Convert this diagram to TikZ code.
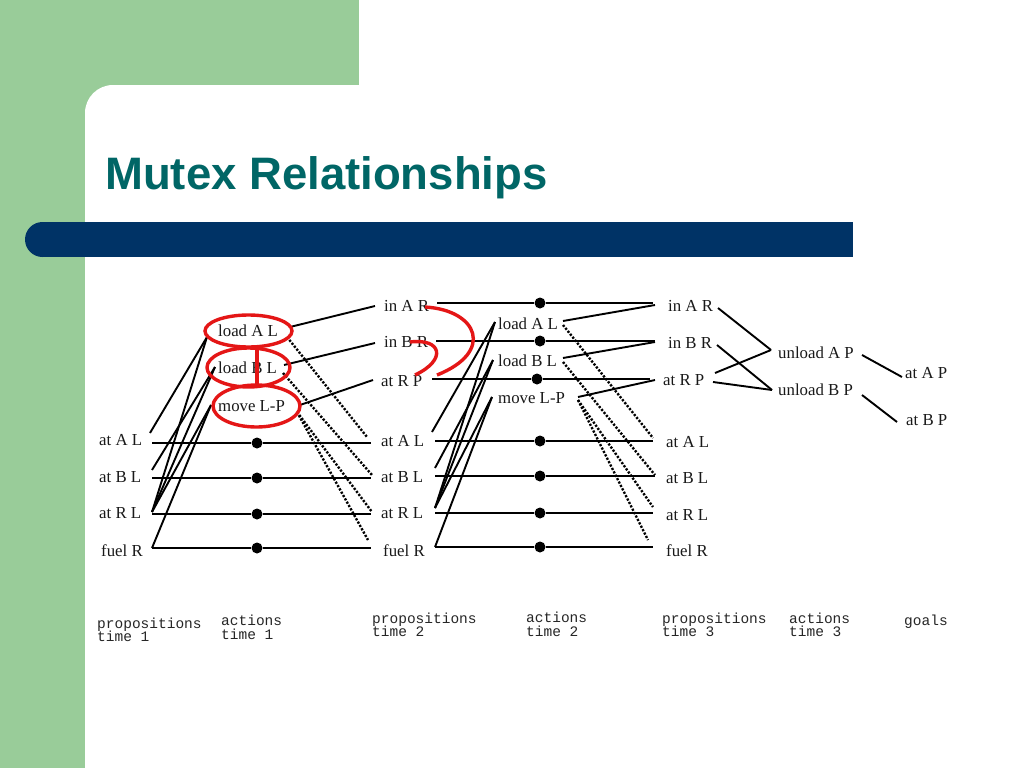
\documentclass[tikz,border=0pt]{standalone}
\usepackage{fontspec}
\setmainfont{Liberation Serif}
\setmonofont{Liberation Mono}
\newfontfamily\ttlfont{Liberation Sans}
\definecolor{slidegreen}{RGB}{153,204,153}
\definecolor{barblue}{RGB}{0,51,102}
\definecolor{titleteal}{RGB}{0,102,102}
\definecolor{markred}{RGB}{228,22,22}
\tikzset{
  lbl/.style={anchor=base west, inner sep=0pt, font=\fontsize{16.8}{18}\selectfont, text=black!90},
  capt/.style={anchor=base west, inner sep=0pt, font=\ttfamily\fontsize{14.5}{14}\selectfont, text=black!85},
  link/.style={line width=1.9pt},
  noop/.style={line width=1.9pt},
  del/.style={line width=2.4pt, dash pattern=on 2.2pt off 1.6pt},
  pdot/.style={circle, fill=black, inner sep=0pt, minimum size=11pt},
  redmark/.style={draw=markred, line width=3.4pt},
}
\begin{document}
\begin{tikzpicture}[x=1pt,y=-1pt]
\useasboundingbox (0,0) rectangle (1024,768);
% background
\fill[white] (0,0) rectangle (1024,768);
\fill[slidegreen] (0,0) rectangle (359,85);
\fill[slidegreen] (0,0) rectangle (85,768);
\fill[slidegreen] (85,85) rectangle (113,113);
\fill[white] (113,113) circle[radius=28];
\fill[barblue] (42.5,222) rectangle (853,257);
\fill[barblue] (42.5,239.5) circle[radius=17.5];
\node[anchor=base west, inner sep=0pt, font=\ttlfont\bfseries\fontsize{45.5}{50}\selectfont, text=titleteal] (title) at (105,189) {Mutex Relationships};

% propositions time 1
\node[lbl] (p1AL) at (99,445) {at A L};
\node[lbl] (p1BL) at (99,482) {at B L};
\node[lbl] (p1RL) at (99,518) {at R L};
\node[lbl] (p1FR) at (101,556) {fuel R};
% actions time 1
\node[lbl] (a1A) at (218,336) {load A L};
\node[lbl] (a1B) at (218,373) {load B L};
\node[lbl] (a1M) at (218,411) {move L-P};
% propositions time 2
\node[lbl] (p2AR) at (384,311) {in A R};
\node[lbl] (p2BR) at (384,347) {in B R};
\node[lbl] (p2RP) at (381,386) {at R P};
\node[lbl] (p2AL) at (381,446) {at A L};
\node[lbl] (p2BL) at (381,482) {at B L};
\node[lbl] (p2RL) at (381,518) {at R L};
\node[lbl] (p2FR) at (383,556) {fuel R};
% actions time 2
\node[lbl] (a2A) at (498,329) {load A L};
\node[lbl] (a2B) at (498,366) {load B L};
\node[lbl] (a2M) at (498,403) {move L-P};
% propositions time 3
\node[lbl] (p3AR) at (668,311) {in A R};
\node[lbl] (p3BR) at (668,348) {in B R};
\node[lbl] (p3RP) at (663,385) {at R P};
\node[lbl] (p3AL) at (666,447) {at A L};
\node[lbl] (p3BL) at (666,483) {at B L};
\node[lbl] (p3RL) at (666,520) {at R L};
\node[lbl] (p3FR) at (666,556) {fuel R};
% actions time 3
\node[lbl] (a3A) at (778,358) {unload A P};
\node[lbl] (a3B) at (778,395) {unload B P};
% goals
\node[lbl] (gA) at (905,378) {at A P};
\node[lbl] (gB) at (906,425) {at B P};

% captions
\node[capt] (c1a) at (97,628) {propositions};
\node[capt] (c1b) at (97,641) {time 1};
\node[capt] (c2a) at (221,625) {actions};
\node[capt] (c2b) at (221,639) {time 1};
\node[capt] (c3a) at (372,623) {propositions};
\node[capt] (c3b) at (372,636) {time 2};
\node[capt] (c4a) at (526,622) {actions};
\node[capt] (c4b) at (526,636) {time 2};
\node[capt] (c5a) at (662,623) {propositions};
\node[capt] (c5b) at (662,636) {time 3};
\node[capt] (c6a) at (789,623) {actions};
\node[capt] (c6b) at (789,636) {time 3};
\node[capt] (c7) at (904,625) {goals};

% no-op lines time 1 -> time 2
\foreach \n/\y in {AL/443, BL/478, RL/514, FR/548} {
  \coordinate (s1\n) at (152,\y);
  \node[pdot] (d1\n) at (257,\y) {};
  \coordinate (e1\n) at (371,\y);
  \draw[noop] (s1\n) -- (d1\n) -- (e1\n);
}
% no-op lines time 2 -> time 3
\foreach \n/\xa/\xd/\xb/\y in {AR/437/540/653/303, BR/436/540/655/341, RP/432/537/650/379, AL/435/540/653/441, BL/435/540/655/476, RL/435/540/653/513, FR/435/540/653/547} {
  \coordinate (s2\n) at (\xa,\y);
  \node[pdot] (d2\n) at (\xd,\y) {};
  \coordinate (e2\n) at (\xb,\y);
  \draw[noop] (s2\n) -- (d2\n) -- (e2\n);
}

% ports time 1
\coordinate (p1AL-o) at (150,433);
\coordinate (p1BL-o) at (152,470);
\coordinate (p1RL-o) at (152,512);
\coordinate (p1FR-o) at (152,548);
\coordinate (a1A-in) at (207,337);
\coordinate (a1B-in) at (215,367);
\coordinate (a1M-in) at (211,405);
\coordinate (a1A-add) at (290,327);
\coordinate (a1A-del) at (287,337);
\coordinate (a1B-add) at (284,365);
\coordinate (a1B-del) at (283,373);
\coordinate (a1M-add) at (300,405);
\coordinate (a1M-del) at (297,412);
\coordinate (p2AR-i) at (375,306);
\coordinate (p2BR-i) at (375,343);
\coordinate (p2RP-i) at (373,380);
\coordinate (p2AL-i) at (367,437);
\coordinate (p2BL-i) at (372,475);
\coordinate (p2RL-i) at (372,512);
\coordinate (p2FR-i) at (368,540);
% ports time 2
\coordinate (p2AL-o) at (432,432);
\coordinate (p2BL-o) at (435,468);
\coordinate (p2RL-o) at (435,508);
\coordinate (p2FR-o) at (435,547);
\coordinate (a2A-in) at (495,322);
\coordinate (a2B-in) at (493,360);
\coordinate (a2M-in) at (492,397);
\coordinate (a2A-add) at (563,321);
\coordinate (a2A-del) at (563,325);
\coordinate (a2B-add) at (563,358);
\coordinate (a2B-del) at (563,362);
\coordinate (a2M-add) at (578,397);
\coordinate (a2M-del) at (578,400);
\coordinate (p3AR-i) at (655,305);
\coordinate (p3BR-i) at (655,342);
\coordinate (p3RP-i) at (655,380);
\coordinate (p3AL-i) at (653,438);
\coordinate (p3BL-i) at (655,475);
\coordinate (p3RL-i) at (653,507);
\coordinate (p3FR-i) at (648,540);
% ports time 3
\coordinate (p3AR-o) at (718,308);
\coordinate (p3BR-o) at (717,345);
\coordinate (p3RP-o) at (715,373);
\coordinate (p3RP-o2) at (713,382);
\coordinate (a3A-in) at (771,350);
\coordinate (a3B-in) at (772,390);
\coordinate (a3A-out) at (862,355);
\coordinate (a3B-out) at (862,395);
\coordinate (gA-in) at (902,377);
\coordinate (gB-in) at (897,422);

% preconditions time 1
\draw[link] (p1AL-o) -- (a1A-in);
\draw[link] (p1RL-o) -- (a1A-in);
\draw[link] (p1BL-o) -- (a1B-in);
\draw[link] (p1RL-o) -- (a1B-in);
\draw[link] (p1RL-o) -- (a1M-in);
\draw[link] (p1FR-o) -- (a1M-in);
% effects time 1
\draw[link] (a1A-add) -- (p2AR-i);
\draw[link] (a1B-add) -- (p2BR-i);
\draw[link] (a1M-add) -- (p2RP-i);
\draw[del] (a1A-del) -- (p2AL-i);
\draw[del] (a1B-del) -- (p2BL-i);
\draw[del] (a1M-del) -- (p2RL-i);
\draw[del] (a1M-del) -- (p2FR-i);
% preconditions time 2
\draw[link] (p2AL-o) -- (a2A-in);
\draw[link] (p2RL-o) -- (a2A-in);
\draw[link] (p2BL-o) -- (a2B-in);
\draw[link] (p2RL-o) -- (a2B-in);
\draw[link] (p2RL-o) -- (a2M-in);
\draw[link] (p2FR-o) -- (a2M-in);
% effects time 2
\draw[link] (a2A-add) -- (p3AR-i);
\draw[link] (a2B-add) -- (p3BR-i);
\draw[link] (a2M-add) -- (p3RP-i);
\draw[del] (a2A-del) -- (p3AL-i);
\draw[del] (a2B-del) -- (p3BL-i);
\draw[del] (a2M-del) -- (p3RL-i);
\draw[del] (a2M-del) -- (p3FR-i);
% time 3
\draw[link] (p3AR-o) -- (a3A-in);
\draw[link] (p3RP-o) -- (a3A-in);
\draw[link] (p3BR-o) -- (a3B-in);
\draw[link] (p3RP-o2) -- (a3B-in);
\draw[link] (a3A-out) -- (gA-in);
\draw[link] (a3B-out) -- (gB-in);

% red mutex marks
\draw[redmark] (248.5,331) ellipse[x radius=43.5, y radius=16];
\draw[redmark] (248.5,367.5) ellipse[x radius=41.5, y radius=19.5];
\draw[redmark] (256.5,406) ellipse[x radius=43.5, y radius=21];
\draw[redmark] (257,347) -- (257,386);
\draw[redmark] (425,307) .. controls (478,310) and (495,352) .. (437,375);
\draw[redmark] (410,342) .. controls (442,338) and (447,360) .. (415,375);
\end{tikzpicture}
\end{document}
